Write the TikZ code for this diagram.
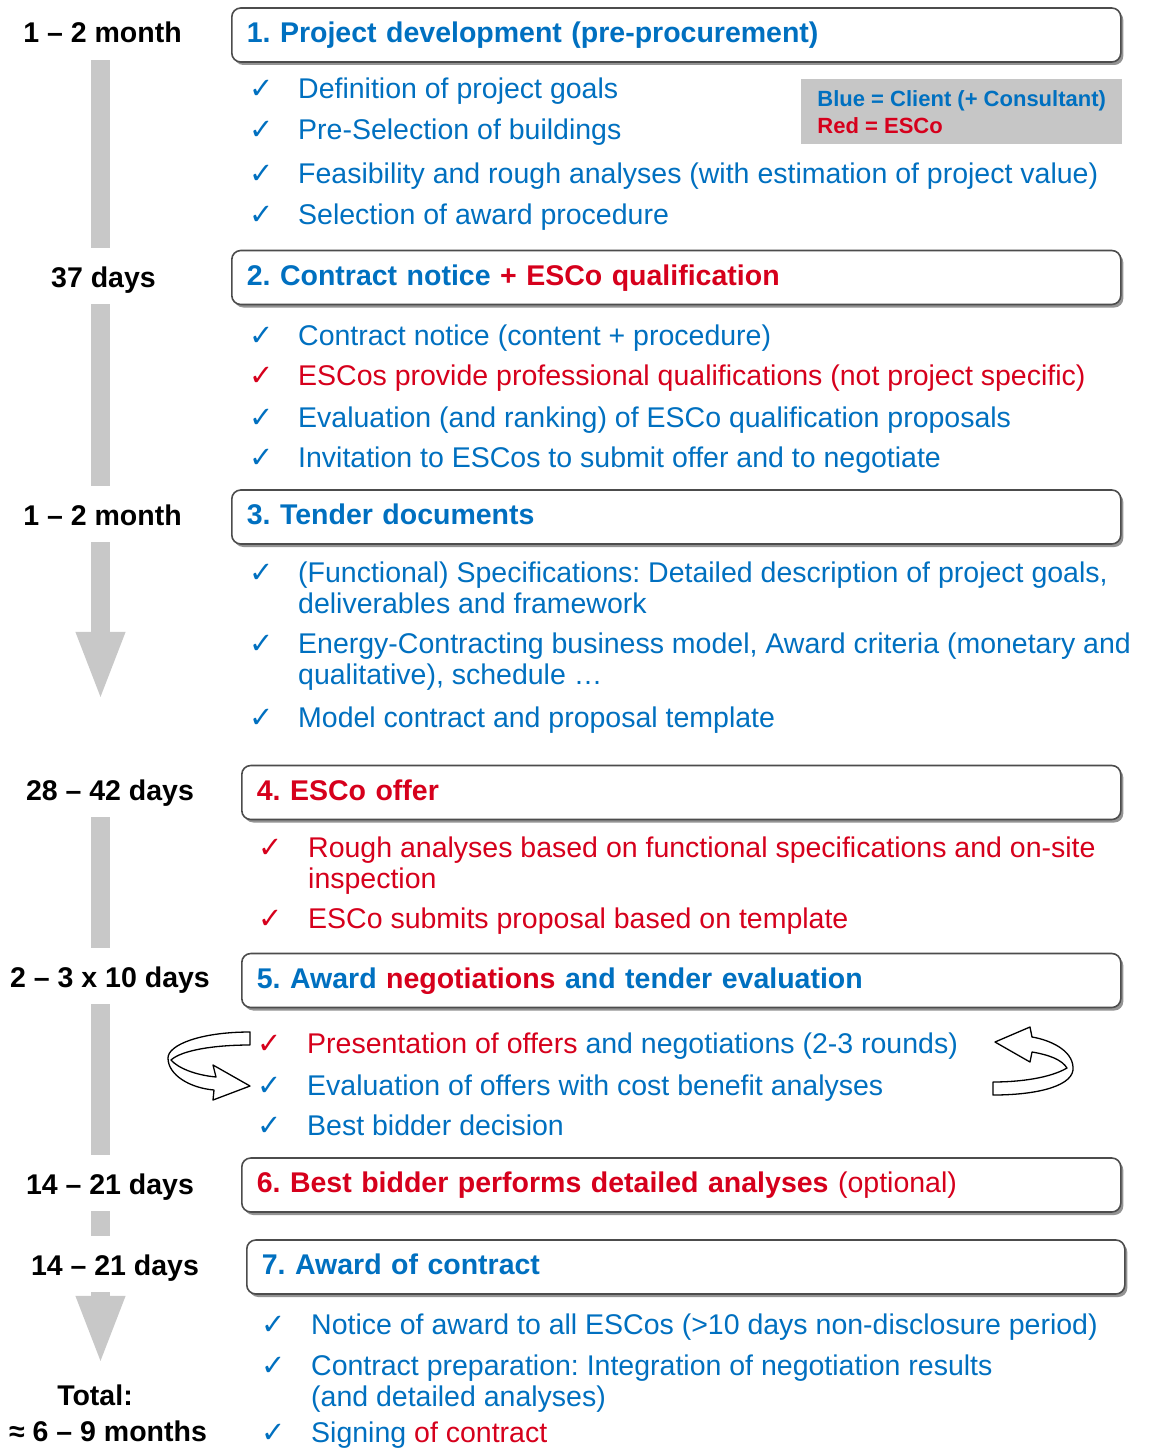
\documentclass[tikz,border=0pt]{standalone}
\usepackage{fontspec}
\setmainfont{Liberation Sans}
\newfontfamily\checkfont{DejaVu Sans}
\usetikzlibrary{arrows.meta,shadows}
\definecolor{cblue}{RGB}{0,112,192}
\definecolor{cred}{RGB}{214,0,28}
\definecolor{bargray}{RGB}{200,200,200}
\definecolor{legendgray}{RGB}{198,198,198}
\frenchspacing
\begin{document}
\begin{tikzpicture}[x=1pt,y=-1pt,
    phase/.style={draw=black!70,line width=1.6pt,rounded corners=9pt,fill=white,
      drop shadow={shadow xshift=2.5pt,shadow yshift=-3pt,fill=black!60,opacity=0.7},
      anchor=west,minimum height=54pt,inner xsep=15pt,inner ysep=0pt,align=left,
      text=cblue,text height=21pt,text depth=6pt,font=\fontsize{28.5}{31}\selectfont\bfseries},
    time/.style={anchor=base,inner xsep=0pt,inner ysep=11pt,text height=28pt,text depth=6pt,
      font=\fontsize{28.5}{31}\selectfont\bfseries},
    item/.style={anchor=base west,inner sep=0pt,align=left,text=cblue,
      font=\fontsize{28.5}{31}\selectfont},
    tick/.style={anchor=base,inner sep=0pt,text=cblue,font=\checkfont\fontsize{29}{29}\selectfont},
    timebar/.style={draw=bargray,line width=19pt},
    timearrow/.style={timebar,-{Triangle[width=44pt,length=70pt]}},
    loop/.style={draw=black,line width=1.3pt,fill=white,line join=round}]
    %sfondo
    \fill[white] (0,0) rectangle (1158,1450);
    \useasboundingbox (0,0) rectangle (1158,1450);
    %tempi
    \coordinate (axis) at (100.5,0);
    \node[time] (t1) at (102.5,43) {1 – 2 month};
    \node[time] (t2) at (103.5,287) {37 days};
    \node[time] (t3) at (102.5,525) {1 – 2 month};
    \node[time] (t4) at (110,800) {28 – 42 days};
    \node[time] (t5) at (110,987) {2 – 3 x 10 days};
    \node[time] (t6) at (110,1194) {14 – 21 days};
    \node[time] (t7) at (115,1275) {14 – 21 days};
    \node[time] (t8) at (95,1405) {Total:};
    \node[time] (t9) at (108,1441) {≈ 6 – 9 months};
    %barre grigie
    \draw[timebar] (t1.south -| axis) -- (t2.north -| axis);
    \draw[timebar] (t2.south -| axis) -- (t3.north -| axis);
    \draw[timearrow,shorten >=59pt] (t3.south -| axis) -- (t4.north -| axis);
    \draw[timebar] (t4.south -| axis) -- (t5.north -| axis);
    \draw[timebar] (t5.south -| axis) -- (t6.north -| axis);
    \draw[timebar] (t6.south -| axis) -- (t7.north -| axis);
    \draw[timearrow] (t7.south -| axis) -- (t8.north -| axis);
    %fasi
    \node[phase,text width=859pt] (p1) at (231,35) {1. Project development (pre-procurement)};
    \node[phase,text width=859pt] (p2) at (231,277.5) {2. Contract notice \textcolor{cred}{+ ESCo qualification}};
    \node[phase,text width=859pt] (p3) at (231,517) {3. Tender documents};
    \node[phase,text width=849pt,text=cred] (p4) at (241,792.5) {4. ESCo offer};
    \node[phase,text width=849pt] (p5) at (241,980.5) {5. Award \textcolor{cred}{negotiations} and tender evaluation};
    \node[phase,text width=849pt,text=cred] (p6) at (241,1185) {6. Best bidder performs detailed analyses \mdseries(optional)};
    \node[phase,text width=848pt] (p7) at (246,1267) {7. Award of contract};
    %legenda
    \node[fill=legendgray,anchor=north west,minimum width=321pt,minimum height=65pt,inner xsep=12pt,
      align=left,text=cblue,font=\fontsize{22}{27}\selectfont\bfseries] (legend) at (801,79)
      {Blue = Client (+ Consultant)\\\textcolor{cred}{Red = ESCo}};
    %punti fase 1
    \node[tick] (c11) at (262,99) {✓};
    \node[item] (i11) at (298,99) {Definition of project goals};
    \node[tick] (c12) at (262,140) {✓};
    \node[item] (i12) at (298,140) {Pre-Selection of buildings};
    \node[tick] (c13) at (262,183) {✓};
    \node[item] (i13) at (298,183) {Feasibility and rough analyses (with estimation of project value)};
    \node[tick] (c14) at (262,224) {✓};
    \node[item] (i14) at (298,224) {Selection of award procedure};
    %punti fase 2
    \node[tick] (c21) at (262,345) {✓};
    \node[item] (i21) at (298,345) {Contract notice (content + procedure)};
    \node[tick,text=cred] (c22) at (262,385) {✓};
    \node[item,text=cred] (i22) at (298,385) {ESCos provide professional qualifications (not project specific)};
    \node[tick] (c23) at (262,427) {✓};
    \node[item] (i23) at (298,427) {Evaluation (and ranking) of ESCo qualification proposals};
    \node[tick] (c24) at (262,467) {✓};
    \node[item] (i24) at (298,467) {Invitation to ESCos to submit offer and to negotiate};
    %punti fase 3
    \node[tick] (c31) at (262,582) {✓};
    \node[item,anchor=north west] (i31) at (298,561.5) {(Functional) Specifications: Detailed description of project goals,\\deliverables and framework};
    \node[tick] (c32) at (262,653) {✓};
    \node[item,anchor=north west] (i32) at (298,632.5) {Energy-Contracting business model, Award criteria (monetary and\\qualitative), schedule …};
    \node[tick] (c33) at (262,727) {✓};
    \node[item] (i33) at (298,727) {Model contract and proposal template};
    %punti fase 4
    \node[tick,text=cred] (c41) at (271,857) {✓};
    \node[item,text=cred,anchor=north west] (i41) at (308,836.5) {Rough analyses based on functional specifications and on-site\\inspection};
    \node[tick,text=cred] (c42) at (271,928) {✓};
    \node[item,text=cred] (i42) at (308,928) {ESCo submits proposal based on template};
    %punti fase 5
    \node[tick,text=cred] (c51) at (270,1053) {✓};
    \node[item] (i51) at (307,1053) {\textcolor{cred}{Presentation of offers} and negotiations (2-3 rounds)};
    \node[tick] (c52) at (270,1095) {✓};
    \node[item] (i52) at (307,1095) {Evaluation of offers with cost benefit analyses};
    \node[tick] (c53) at (270,1135) {✓};
    \node[item] (i53) at (307,1135) {Best bidder decision};
    %punti fase 7
    \node[tick] (c71) at (274,1334) {✓};
    \node[item] (i71) at (311,1334) {Notice of award to all ESCos (>10 days non-disclosure period)};
    \node[tick] (c72) at (274,1375) {✓};
    \node[item,anchor=north west] (i72) at (311,1354.5) {Contract preparation: Integration of negotiation results\\(and detailed analyses)};
    \node[tick] (c73) at (274,1442) {✓};
    \node[item] (i73) at (311,1442) {Signing \textcolor{cred}{of contract}};
    %frecce circolari
    \draw[loop] (250,1032) .. controls (200,1032) and (168,1045) .. (168,1058)
      .. controls (168,1075) and (190,1088) .. (214,1090) -- (213,1100) -- (250,1086)
      -- (213,1065) -- (216,1077) .. controls (195,1075) and (178,1068) .. (171,1060)
      .. controls (182,1050) and (215,1045) .. (250,1045) -- cycle;
    \draw[loop] (993,1095) .. controls (1040,1095) and (1075,1085) .. (1073,1067)
      .. controls (1072,1050) and (1050,1040) .. (1032,1037) -- (1030,1027) -- (995,1042)
      -- (1030,1062) -- (1032,1052) .. controls (1050,1055) and (1062,1060) .. (1067,1068)
      .. controls (1050,1078) and (1020,1082) .. (993,1082) -- cycle;
\end{tikzpicture}
\end{document}
